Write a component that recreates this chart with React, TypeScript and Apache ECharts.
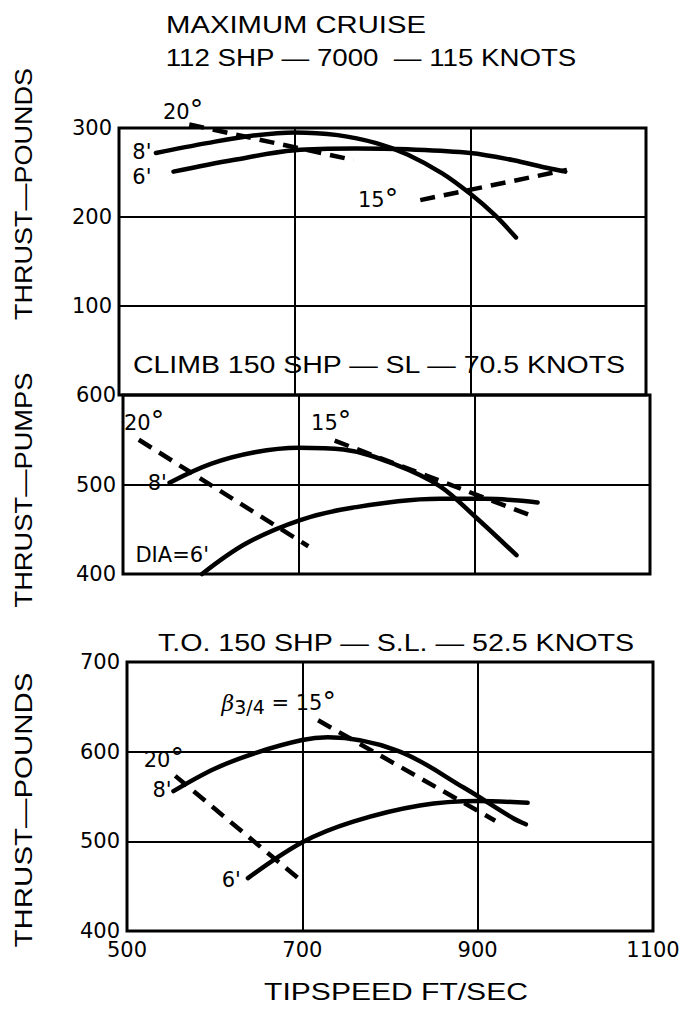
import React, { useEffect, useRef } from 'react';
import * as echarts from 'echarts';

// ---------- data ----------
const xTicks = [500, 700, 900, 1100];
const cruiseTicks = [0, 100, 200, 300];
const climbTicks = [400, 500, 600];
const toTicks = [400, 500, 600, 700];

// Panel 1: MAXIMUM CRUISE
const cruise8ft = [[542, 272], [600, 283], [649, 291], [700, 295], [749, 292], [793, 283], [829, 270], [868, 249], [900, 226], [928, 202], [952, 177]];
const cruise6ft = [[562, 251], [630, 264], [700, 275], [769, 277], [829, 276], [900, 272], [948, 264], [988, 255], [1008, 251]];
const cruise20deg = [[580, 304], [767, 264]];
const cruise15deg = [[843, 219], [1010, 253]];
const cruiseLabels = [
  { name: '20°', value: [573, 318] },
  { name: "8'", value: [526, 273] },
  { name: "6'", value: [526, 245] },
  { name: '15°', value: [795, 219] },
];

// Panel 2: CLIMB
const climb8ft = [[553, 502], [600, 523], [650, 536], [700, 541], [751, 539], [811, 522], [861, 498], [901, 464], [948, 421]];
const climb6ft = [[590, 400], [640, 434], [701, 460], [761, 474], [861, 484], [912, 484], [972, 480]];
const climb20deg = [[518, 550], [711, 431]];
const climb15deg = [[741, 549], [968, 464]];
const climbLabels = [
  { name: '20°', value: [524, 569] },
  { name: '15°', value: [737, 569] },
  { name: "8'", value: [539, 502] },
  { name: "DIA=6'", value: [556, 421] },
];

// Panel 3: T.O.
const to8ft = [[553, 556], [600, 581], [648, 599], [700, 613], [729, 616], [809, 601], [884, 560], [940, 526], [955, 519]];
const to6ft = [[638, 459], [700, 499], [758, 522], [834, 540], [900, 545], [957, 543]];
const to20deg = [[555, 573], [700, 455]];
const to15deg = [[718, 635], [920, 523]];
const toLabels = [
  { name: 'beta', value: [673, 654] },
  { name: '20°', value: [542, 591] },
  { name: "8'", value: [540, 557] },
  { name: "6'", value: [619, 457] },
];

// ---------- helpers ----------
const TITLE_FONT = '23px "Liberation Sans"';
let measureCtx: CanvasRenderingContext2D | null = null;
function fitScale(text: string, target: number) {
  if (!measureCtx) measureCtx = document.createElement('canvas').getContext('2d');
  if (!measureCtx) return 1.2;
  measureCtx.font = TITLE_FONT;
  const w = measureCtx.measureText(text).width;
  return w > 0 ? target / w : 1.2;
}

function titleText(text: string, cx: number, cy: number, width: number, vertical = false) {
  return {
    type: 'text',
    x: cx,
    y: cy,
    rotation: vertical ? Math.PI / 2 : 0,
    scaleX: fitScale(text, width),
    style: {
      text,
      font: TITLE_FONT,
      fill: '#000',
      align: 'center',
      verticalAlign: 'middle',
    },
  };
}

const solid = (data: number[][], idx: number) => ({
  type: 'line',
  xAxisIndex: idx,
  yAxisIndex: idx,
  data,
  smooth: 0.35,
  symbol: 'none',
  clip: false,
  lineStyle: { color: '#000', width: 4.5, cap: 'round' },
});

const dashed = (data: number[][], idx: number) => ({
  type: 'line',
  xAxisIndex: idx,
  yAxisIndex: idx,
  data,
  symbol: 'none',
  clip: false,
  lineStyle: { color: '#000', width: 4.5, type: [15, 9], cap: 'butt' },
});

function labelText(name: string) {
  if (name === 'beta') return '{a|β}{b|3/4}{c| = 15}{d|°}';
  if (name.endsWith('°')) return name.slice(0, -1) + '{d|°}';
  return name;
}

const labelSeries = (data: any[], idx: number) => ({
  type: 'scatter',
  xAxisIndex: idx,
  yAxisIndex: idx,
  data,
  symbol: 'circle',
  symbolSize: 0,
  clip: false,
  silent: true,
  itemStyle: { color: '#000', opacity: 1 },
  label: {
    show: true,
    position: 'inside',
    color: '#000',
    opacity: 1,
    textBorderWidth: 0,
    fontFamily: 'DejaVu Sans',
    fontSize: 21,
    formatter: (p: any) => labelText(p.name),
    rich: {
      a: { fontFamily: 'DejaVu Serif', fontStyle: 'italic', fontSize: 22, color: '#000' },
      b: { fontFamily: 'DejaVu Sans', fontSize: 19, color: '#000', padding: [8, 0, 0, 0] },
      c: { fontFamily: 'DejaVu Sans', fontSize: 21, color: '#000' },
      d: { fontFamily: 'DejaVu Sans', fontSize: 27, color: '#000', padding: [0, 0, 4, 0] },
    },
  },
});

const xAxis = (idx: number, showLabels: boolean) => ({
  type: 'value',
  gridIndex: idx,
  min: xTicks[0],
  max: xTicks[xTicks.length - 1],
  interval: xTicks[1] - xTicks[0],
  axisLine: { show: false },
  axisTick: { show: false },
  axisLabel: {
    show: showLabels,
    color: '#000',
    fontFamily: 'DejaVu Sans',
    fontSize: 21,
    margin: 8,
    formatter: (v: number) => String(v),
  },
  splitLine: { show: true, lineStyle: { color: '#000', width: 2 } },
});

const yAxis = (idx: number, ticks: number[], hideZero = false) => ({
  type: 'value',
  gridIndex: idx,
  min: ticks[0],
  max: ticks[ticks.length - 1],
  interval: ticks[1] - ticks[0],
  axisLine: { show: false },
  axisTick: { show: false },
  axisLabel: {
    color: '#000',
    fontFamily: 'DejaVu Sans',
    fontSize: 21,
    margin: 7,
    formatter: (v: number) => (hideZero && v === 0 ? '' : String(v)),
  },
  splitLine: { show: true, lineStyle: { color: '#000', width: 2 } },
});

const gridStyle = {
  show: true,
  borderColor: '#000',
  borderWidth: 3,
  backgroundColor: 'transparent',
  containLabel: false,
  outerBoundsMode: 'none',
};

export default function App() {
  const ref = useRef<HTMLDivElement>(null);

  useEffect(() => {
    document.body.style.margin = '0';
    if (!ref.current) return;
    const chart = echarts.init(ref.current, null, { renderer: 'svg' });
    chart.setOption({
      animation: false,
      backgroundColor: '#fff',
      grid: [
        { ...gridStyle, left: 119, top: 128, width: 527, height: 267 },
        { ...gridStyle, left: 123, top: 395, width: 527, height: 179 },
        { ...gridStyle, left: 127, top: 662, width: 526, height: 269 },
      ],
      xAxis: [xAxis(0, false), xAxis(1, false), xAxis(2, true)],
      yAxis: [yAxis(0, cruiseTicks, true), yAxis(1, climbTicks), yAxis(2, toTicks)],
      series: [
        solid(cruise8ft, 0),
        solid(cruise6ft, 0),
        dashed(cruise20deg, 0),
        dashed(cruise15deg, 0),
        labelSeries(cruiseLabels, 0),
        solid(climb8ft, 1),
        solid(climb6ft, 1),
        dashed(climb20deg, 1),
        dashed(climb15deg, 1),
        labelSeries(climbLabels, 1),
        solid(to8ft, 2),
        solid(to6ft, 2),
        dashed(to20deg, 2),
        dashed(to15deg, 2),
        labelSeries(toLabels, 2),
      ],
      graphic: [
        titleText('MAXIMUM CRUISE', 296, 25, 260),
        titleText('112 SHP — 7000  — 115 KNOTS', 371, 58, 411),
        titleText('CLIMB 150 SHP — SL — 70.5 KNOTS', 379, 365, 494),
        titleText('T.O. 150 SHP — S.L. — 52.5 KNOTS', 396, 643, 477),
        titleText('TIPSPEED FT/SEC', 396, 992, 264),
        titleText('THRUST—POUNDS', 24, 194, 252, true),
        titleText('THRUST—PUMPS', 24, 490, 235, true),
        titleText('THRUST—POUNDS', 24, 810, 275, true),
      ],
    });
    return () => chart.dispose();
  }, []);

  return <div ref={ref} style={{ width: 691, height: 1010 }} />;
}
